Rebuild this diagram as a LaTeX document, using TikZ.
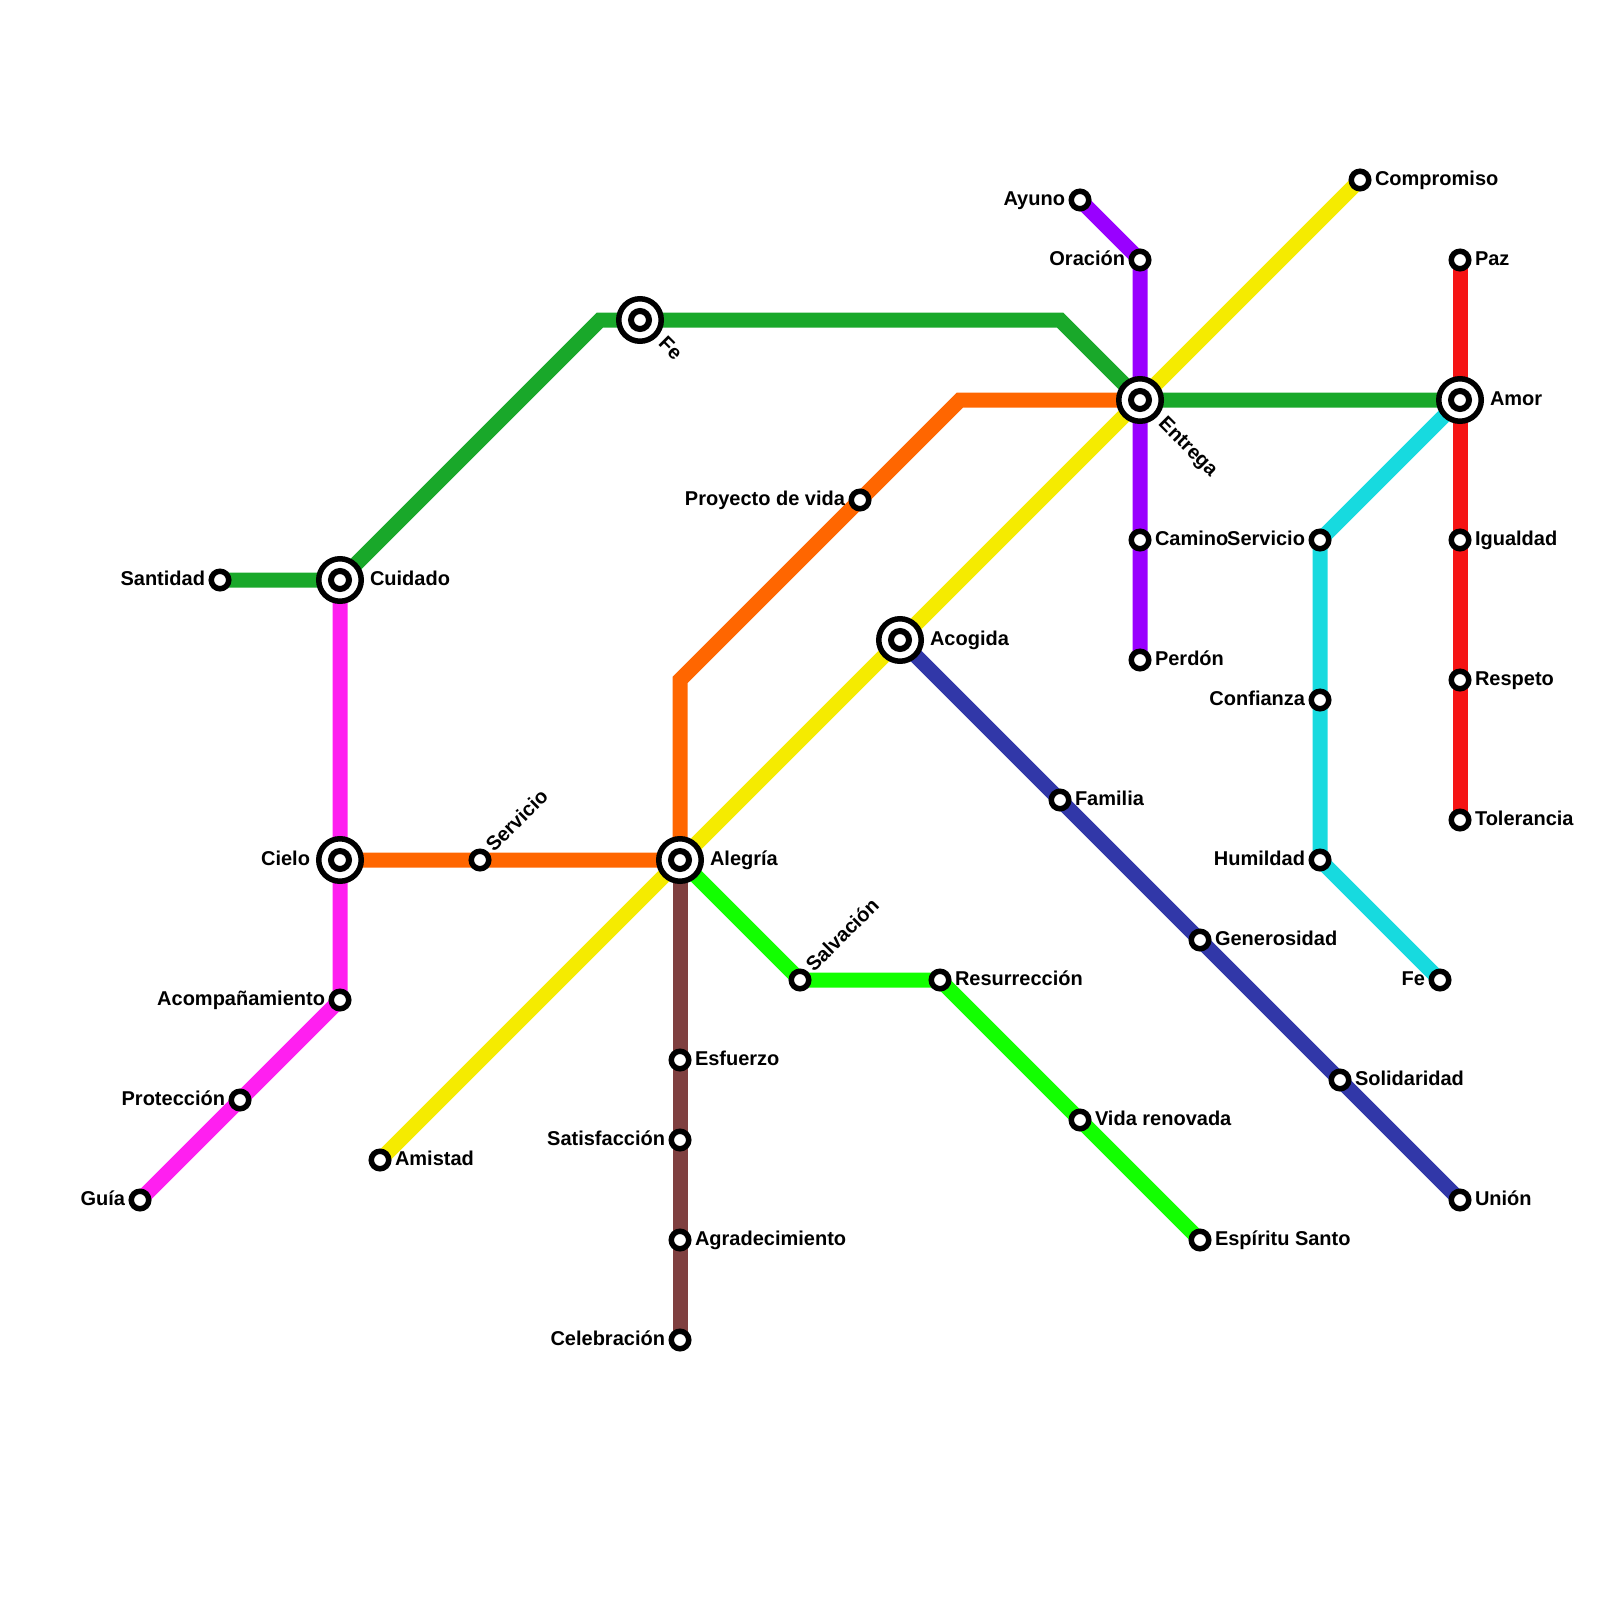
\documentclass[tikz,border=0pt]{standalone}
\usepackage{fontspec}
\setmainfont{Liberation Sans}
\definecolor{mGreen}{HTML}{19A82A}
\definecolor{mOrange}{HTML}{FF6600}
\definecolor{mYellow}{HTML}{F5EB00}
\definecolor{mPurple}{HTML}{9900FF}
\definecolor{mRed}{HTML}{F51414}
\definecolor{mCyan}{HTML}{17DADF}
\definecolor{mLime}{HTML}{12FF00}
\definecolor{mNavy}{HTML}{3137A8}
\definecolor{mPink}{HTML}{FF1FF0}
\definecolor{mBrown}{HTML}{7F3F3F}
\tikzset{
  metro/.style={line width=7.5pt, line join=miter},
  stn/.style={circle, draw=black, fill=white, line width=2.75pt, minimum size=8.75pt, inner sep=0pt, outer sep=0pt},
  hub/.style={circle, draw=black, fill=white, line width=2.75pt, minimum size=21.25pt, inner sep=0pt, outer sep=0pt},
  hubcore/.style={circle, draw=black, fill=white, line width=3pt, minimum size=9pt, inner sep=0pt, outer sep=0pt},
  lbl/.style={font=\fontsize{10}{12}\bfseries\selectfont, inner sep=0pt, outer sep=0pt},
  lblR/.style={lbl, anchor=base west, xshift=7.5pt, yshift=-2.5pt},
  lblL/.style={lbl, anchor=base east, xshift=-7.5pt, yshift=-2.5pt},
  hubR/.style={lbl, anchor=base west, xshift=15pt, yshift=-2.5pt},
  hubL/.style={lbl, anchor=base east, xshift=-15pt, yshift=-2.5pt},
}
\begin{document}
\begin{tikzpicture}[x=0.5pt, y=-0.5pt]
    \useasboundingbox (0,0) rectangle (1600,1600);
    % Stations and bends
    \foreach \name/\x/\y in {Santidad/220/580, Cuidado/340/580, Fe/640/320, Cielo/340/860, ServicioA/480/860,
        Alegria/680/860, Acompanamiento/340/1000, Proteccion/240/1100, Guia/140/1200, Amistad/380/1160,
        Esfuerzo/680/1060, Satisfaccion/680/1140, Agradecimiento/680/1240, Celebracion/680/1340,
        Salvacion/800/980, Resurreccion/940/980, Vida/1080/1120, Espiritu/1200/1240,
        Acogida/900/640, Familia/1060/800, Generosidad/1200/940, Solidaridad/1340/1080, Union/1460/1200,
        Proyecto/860/500, Entrega/1140/400, Ayuno/1080/200, Oracion/1140/260, Camino/1140/540, Perdon/1140/660,
        Compromiso/1360/180, Paz/1460/260, Amor/1460/400, Igualdad/1460/540, Respeto/1460/680, Tolerancia/1460/820,
        ServicioB/1320/540, Confianza/1320/700, Humildad/1320/860, FeB/1440/980,
        bendA/600/320, bendB/1060/320, bendC/680/680, bendD/960/400}
        \coordinate (\name) at (\x,\y);
    % Lines
    \draw[metro, mGreen] (Santidad) -- (Cuidado) -- (bendA) -- (Fe) -- (bendB) -- (Entrega) -- (Amor);
    \draw[metro, mPink] (Cuidado) -- (Cielo) -- (Acompanamiento) -- (Proteccion) -- (Guia);
    \draw[metro, mOrange] (Cielo) -- (ServicioA) -- (Alegria) -- (bendC) -- (Proyecto) -- (bendD) -- (Entrega);
    \draw[metro, mYellow] (Amistad) -- (Alegria) -- (Acogida) -- (Entrega) -- (Compromiso);
    \draw[metro, mBrown] (Alegria) -- (Esfuerzo) -- (Satisfaccion) -- (Agradecimiento) -- (Celebracion);
    \draw[metro, mLime] (Alegria) -- (Salvacion) -- (Resurreccion) -- (Vida) -- (Espiritu);
    \draw[metro, mNavy] (Acogida) -- (Familia) -- (Generosidad) -- (Solidaridad) -- (Union);
    \draw[metro, mPurple] (Ayuno) -- (Oracion) -- (Entrega) -- (Camino) -- (Perdon);
    \draw[metro, mRed] (Paz) -- (Amor) -- (Igualdad) -- (Respeto) -- (Tolerancia);
    \draw[metro, mCyan] (Amor) -- (ServicioB) -- (Confianza) -- (Humildad) -- (FeB);
    % Interchanges
    \foreach \name in {Cuidado, Fe, Cielo, Alegria, Acogida, Entrega, Amor} {
        \node[hub] (hub\name) at (\name) {};
        \node[hubcore] (core\name) at (\name) {};
    }
    % Plain stations
    \foreach \name in {Santidad, ServicioA, Acompanamiento, Proteccion, Guia, Amistad, Esfuerzo, Satisfaccion,
        Agradecimiento, Celebracion, Salvacion, Resurreccion, Vida, Espiritu, Familia, Generosidad, Solidaridad,
        Union, Proyecto, Ayuno, Oracion, Camino, Perdon, Compromiso, Paz, Igualdad, Respeto, Tolerancia,
        ServicioB, Confianza, Humildad, FeB}
        \node[stn] (stn\name) at (\name) {};
    % Labels left
    \node[lblL] (tSantidad) at (Santidad) {Santidad};
    \node[hubL] (tCielo) at (Cielo) {Cielo};
    \node[lblL] (tAcompanamiento) at (Acompanamiento) {Acompañamiento};
    \node[lblL] (tProteccion) at (Proteccion) {Protección};
    \node[lblL] (tGuia) at (Guia) {Guía};
    \node[lblL] (tSatisfaccion) at (Satisfaccion) {Satisfacción};
    \node[lblL] (tCelebracion) at (Celebracion) {Celebración};
    \node[lblL] (tProyecto) at (Proyecto) {Proyecto de vida};
    \node[lblL] (tAyuno) at (Ayuno) {Ayuno};
    \node[lblL] (tOracion) at (Oracion) {Oración};
    \node[lblL] (tServicioB) at (ServicioB) {Servicio};
    \node[lblL] (tConfianza) at (Confianza) {Confianza};
    \node[lblL] (tHumildad) at (Humildad) {Humildad};
    \node[lblL] (tFeB) at (FeB) {Fe};
    % Labels right
    \node[hubR] (tCuidado) at (Cuidado) {Cuidado};
    \node[hubR] (tAlegria) at (Alegria) {Alegría};
    \node[hubR] (tAcogida) at (Acogida) {Acogida};
    \node[hubR] (tAmor) at (Amor) {Amor};
    \node[lblR] (tAmistad) at (Amistad) {Amistad};
    \node[lblR] (tEsfuerzo) at (Esfuerzo) {Esfuerzo};
    \node[lblR] (tAgradecimiento) at (Agradecimiento) {Agradecimiento};
    \node[lblR] (tResurreccion) at (Resurreccion) {Resurrección};
    \node[lblR] (tVida) at (Vida) {Vida renovada};
    \node[lblR] (tEspiritu) at (Espiritu) {Espíritu Santo};
    \node[lblR] (tFamilia) at (Familia) {Familia};
    \node[lblR] (tGenerosidad) at (Generosidad) {Generosidad};
    \node[lblR] (tSolidaridad) at (Solidaridad) {Solidaridad};
    \node[lblR] (tUnion) at (Union) {Unión};
    \node[lblR] (tCamino) at (Camino) {Camino};
    \node[lblR] (tPerdon) at (Perdon) {Perdón};
    \node[lblR] (tCompromiso) at (Compromiso) {Compromiso};
    \node[lblR] (tPaz) at (Paz) {Paz};
    \node[lblR] (tIgualdad) at (Igualdad) {Igualdad};
    \node[lblR] (tRespeto) at (Respeto) {Respeto};
    \node[lblR] (tTolerancia) at (Tolerancia) {Tolerancia};
    % Labels at an angle
    \node[rotate=-45, hubR] (tFe) at (Fe) {Fe};
    \node[rotate=-45, hubR] (tEntrega) at (Entrega) {Entrega};
    \node[rotate=45, lblR] (tServicioA) at (ServicioA) {Servicio};
    \node[rotate=45, lblR] (tSalvacion) at (Salvacion) {Salvación};
\end{tikzpicture}
\end{document}
